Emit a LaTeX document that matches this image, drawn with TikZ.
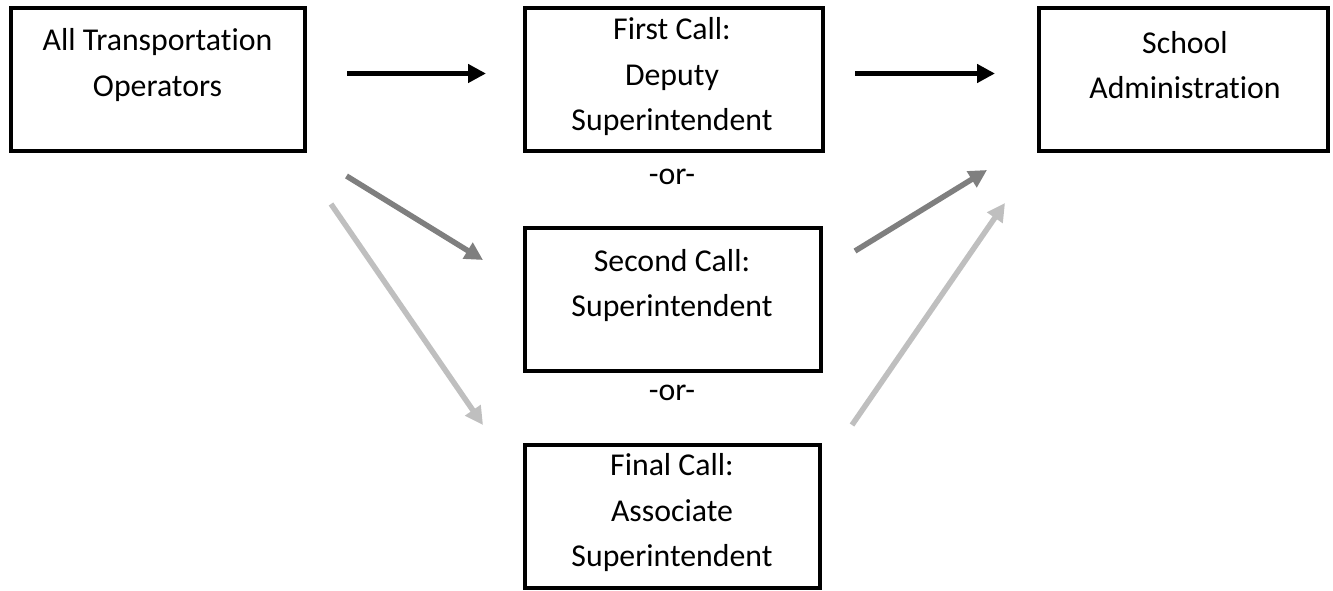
\documentclass[tikz,border=0pt]{standalone}
\usepackage{fontspec}
\setmainfont{Carlito}[Ligatures=NoCommon]
\usetikzlibrary{arrows.meta}
\definecolor{darkarrow}{HTML}{7F7F7F}
\definecolor{lightarrow}{HTML}{BFBFBF}
\begin{document}
\begin{tikzpicture}[x=1pt,y=-1pt,
  box/.style={draw=black, line width=4pt, rectangle, inner sep=0pt, minimum height=143pt},
  txt/.style={inner sep=0pt, align=center, anchor=north, font=\fontsize{31.8}{45.5}\selectfont},
  ortxt/.style={inner sep=0pt, anchor=base, font=\fontsize{31.8}{45.5}\selectfont},
  arr/.style={line width=5.5pt, -{Triangle[length=18pt,width=18pt]}},
  blackarr/.style={arr, draw=black},
  darkarr/.style={arr, draw=darkarrow},
  lightarr/.style={arr, draw=lightarrow}]
\useasboundingbox (0,0) rectangle (1333,591);
% boxes
\node[box, minimum width=294pt] (A) at (157.5,80) {};
\node[box, minimum width=298pt] (B) at (674,79.5) {};
\node[box, minimum width=296pt] (C) at (673,299) {};
\node[box, minimum width=295pt] (D) at (672.5,516.5) {};
\node[box, minimum width=289pt] (E) at (1183.5,80) {};
% texts
\node[txt] (At) at (157.5,18.5) {\strut All Transportation\\Operators};
\node[txt] (Bt) at (672,7.5) {\strut First Call:\\Deputy\\Superintendent};
\node[txt] (Ct) at (672,239) {\strut Second Call:\\Superintendent};
\node[txt] (Dt) at (672,443.5) {\strut Final Call:\\Associate\\Superintendent};
\node[txt] (Et) at (1185,21) {\strut School\\Administration};
\node[ortxt] (or1) at (672,184) {-or-};
\node[ortxt] (or2) at (672,400) {-or-};
% arrow end points
\coordinate (k1s) at (347,73.5);
\coordinate (k1e) at (486,73.5);
\coordinate (k2s) at (855,73.5);
\coordinate (k2e) at (995,73.5);
\coordinate (g1s) at (346.5,176);
\coordinate (g1e) at (483,260);
\coordinate (l1s) at (331,204);
\coordinate (l1e) at (483,425);
\coordinate (g2s) at (855,251);
\coordinate (g2e) at (987,170);
\coordinate (l2s) at (852,425);
\coordinate (l2e) at (1005,203);
% arrows
\draw[blackarr] (k1s) -- (k1e);
\draw[blackarr] (k2s) -- (k2e);
\draw[darkarr] (g1s) -- (g1e);
\draw[lightarr] (l1s) -- (l1e);
\draw[darkarr] (g2s) -- (g2e);
\draw[lightarr] (l2s) -- (l2e);
\end{tikzpicture}
\end{document}
